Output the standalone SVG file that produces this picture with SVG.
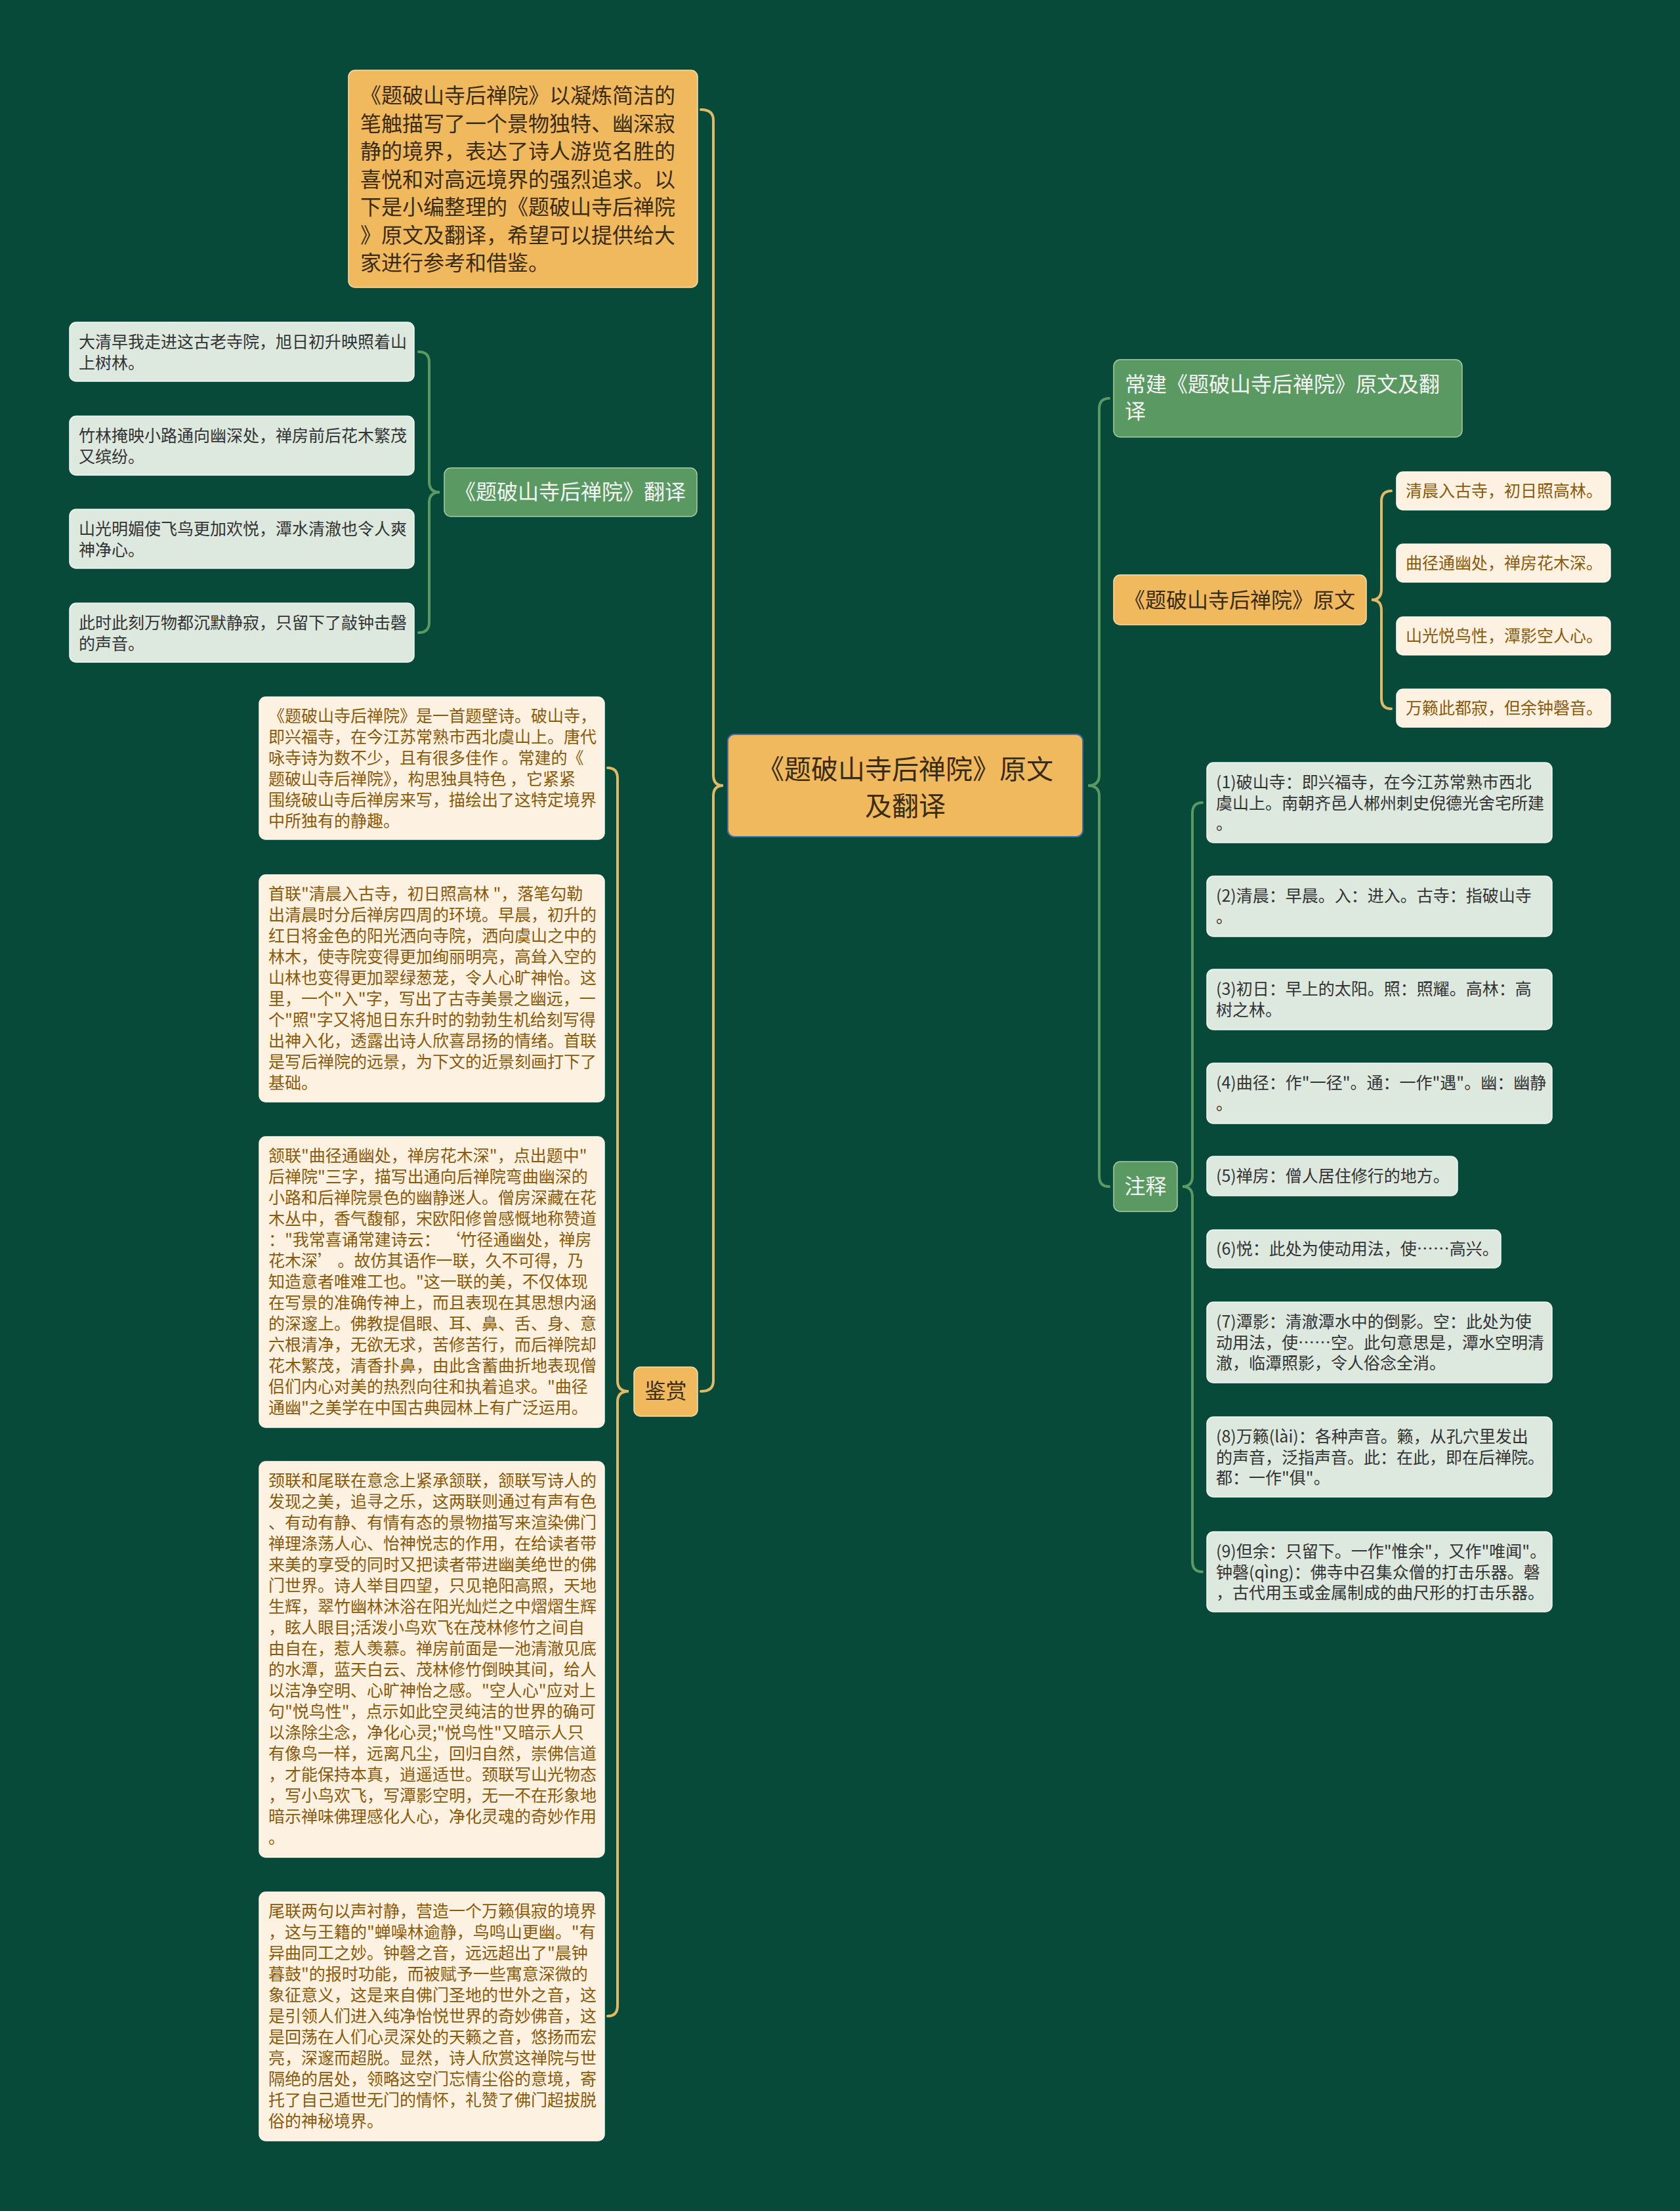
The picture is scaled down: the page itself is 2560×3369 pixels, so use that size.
<svg xmlns="http://www.w3.org/2000/svg" width="2560" height="3369" viewBox="0 0 2560 3369">
<style>
text{font-family:"Noto Sans CJK SC","Noto Sans",sans-serif}
.s25{font-size:25px}
.s32{font-size:32px}
.s41{font-size:41px}
.dark{fill:#3A2C12}
.brown{fill:#8A5A0A}
.grey{fill:#333333}
.white{fill:#F4F4F4}
.orange{fill:#F0B95E;stroke:#F7DDB0;stroke-width:1.5}
.green{fill:#5A9A62;stroke:#A8CCAA;stroke-width:1.5}
.light{fill:#DDE9DF;stroke:#F2F7F2;stroke-width:1.5}
.cream{fill:#FDF2E2;stroke:#FFF8EE;stroke-width:1.5}
.gold{stroke:#E2BA66}
.gl{stroke:#5A9A62}
</style>
<rect width="2560" height="3369" fill="#074A39"/>
<g id="connectors" fill="none" stroke-width="4" stroke-linecap="round">
<path class="gold" d="M1068,167 Q1087,167 1087,183 L1087,1181 Q1087,1197 1102,1197 Q1087,1197 1087,1213 L1087,2104 Q1087,2120 1068,2120"/>
<path class="gold" d="M926,1170 Q941,1170 941,1186 L941,2104 Q941,2120 958,2120 Q941,2120 941,2136 L941,3056 Q941,3072 926,3072"/>
<path class="gl" d="M638,536 Q654,536 654,552 L654,734 Q654,750 670,750 Q654,750 654,766 L654,948 Q654,964 638,964"/>
<path class="gl" d="M1690,607 Q1675,607 1675,623 L1675,1181 Q1675,1197 1658,1197 Q1675,1197 1675,1213 L1675,1792 Q1675,1808 1690,1808"/>
<path class="gold" d="M2120,748 Q2105,748 2105,764 L2105,898 Q2105,914 2090,914 Q2105,914 2105,930 L2105,1064 Q2105,1080 2120,1080"/>
<path class="gl" d="M1832,1223 Q1817,1223 1817,1239 L1817,1792 Q1817,1808 1802,1808 Q1817,1808 1817,1824 L1817,2379 Q1817,2395 1832,2395"/>
</g>
<g id="center">
<rect x="1109" y="1119" width="541" height="156" rx="10" fill="#F0B95E" stroke="#3C6EB4" stroke-width="2"/>
<text class="s41 dark" text-anchor="middle"><tspan x="1379.5" y="1187">《题破山寺后禅院》原文</tspan><tspan x="1379.5" y="1243">及翻译</tspan></text>
</g>
<g id="intro">
<rect class="orange" x="531" y="107" width="532" height="331" rx="10"/>
<text class="s32 dark"><tspan x="549" y="157">《题破山寺后禅院》以凝炼简洁的</tspan><tspan x="549" y="199.5">笔触描写了一个景物独特、幽深寂</tspan><tspan x="549" y="242">静的境界，表达了诗人游览名胜的</tspan><tspan x="549" y="284.5">喜悦和对高远境界的强烈追求。以</tspan><tspan x="549" y="327">下是小编整理的《题破山寺后禅院</tspan><tspan x="549" y="369.5">》原文及翻译，希望可以提供给大</tspan><tspan x="549" y="412">家进行参考和借鉴。</tspan></text>
</g>
<g id="translation">
<rect class="green" x="677" y="713" width="385" height="74" rx="10"/>
<text class="s32 white" x="693" y="761">《题破山寺后禅院》翻译</text>
</g>
<g id="tr1">
<rect class="light" x="106" y="491" width="525" height="90" rx="10"/>
<text class="s25 grey"><tspan x="120" y="530">大清早我走进这古老寺院，旭日初升映照着山</tspan><tspan x="120" y="562">上树林。</tspan></text>
</g>
<g id="tr2">
<rect class="light" x="106" y="634" width="525" height="90" rx="10"/>
<text class="s25 grey"><tspan x="120" y="673">竹林掩映小路通向幽深处，禅房前后花木繁茂</tspan><tspan x="120" y="705">又缤纷。</tspan></text>
</g>
<g id="tr3">
<rect class="light" x="106" y="776" width="525" height="90" rx="10"/>
<text class="s25 grey"><tspan x="120" y="815">山光明媚使飞鸟更加欢悦，潭水清澈也令人爽</tspan><tspan x="120" y="847">神净心。</tspan></text>
</g>
<g id="tr4">
<rect class="light" x="106" y="919" width="525" height="90" rx="10"/>
<text class="s25 grey"><tspan x="120" y="958">此时此刻万物都沉默静寂，只留下了敲钟击磬</tspan><tspan x="120" y="990">的声音。</tspan></text>
</g>
<g id="appreciation">
<rect class="orange" x="966" y="2083" width="97" height="75" rx="10"/>
<text class="s32 dark" x="1014.5" y="2131" text-anchor="middle">鉴赏</text>
</g>
<g id="ap1">
<rect class="cream" x="395" y="1062" width="526" height="217" rx="10"/>
<text class="s25 brown"><tspan x="409" y="1100">《题破山寺后禅院》是一首题壁诗。破山寺，</tspan><tspan x="409" y="1132">即兴福寺，在今江苏常熟市西北虞山上。唐代</tspan><tspan x="409" y="1164">咏寺诗为数不少，且有很多佳作 。常建的《</tspan><tspan x="409" y="1196">题破山寺后禅院》，构思独具特色 ，它紧紧</tspan><tspan x="409" y="1228">围绕破山寺后禅房来写，描绘出了这特定境界</tspan><tspan x="409" y="1260">中所独有的静趣。</tspan></text>
</g>
<g id="ap2">
<rect class="cream" x="395" y="1333" width="526" height="346" rx="10"/>
<text class="s25 brown"><tspan x="409" y="1371">首联"清晨入古寺，初日照高林 "，落笔勾勒</tspan><tspan x="409" y="1403">出清晨时分后禅房四周的环境。早晨，初升的</tspan><tspan x="409" y="1435">红日将金色的阳光洒向寺院，洒向虞山之中的</tspan><tspan x="409" y="1467">林木，使寺院变得更加绚丽明亮，高耸入空的</tspan><tspan x="409" y="1499">山林也变得更加翠绿葱茏，令人心旷神怡。这</tspan><tspan x="409" y="1531">里，一个"入"字，写出了古寺美景之幽远，一</tspan><tspan x="409" y="1563">个"照"字又将旭日东升时的勃勃生机给刻写得</tspan><tspan x="409" y="1595">出神入化，透露出诗人欣喜昂扬的情绪。首联</tspan><tspan x="409" y="1627">是写后禅院的远景，为下文的近景刻画打下了</tspan><tspan x="409" y="1659">基础。</tspan></text>
</g>
<g id="ap3">
<rect class="cream" x="395" y="1732" width="526" height="443" rx="10"/>
<text class="s25 brown"><tspan x="409" y="1770">颔联"曲径通幽处，禅房花木深"，点出题中"</tspan><tspan x="409" y="1802">后禅院"三字，描写出通向后禅院弯曲幽深的</tspan><tspan x="409" y="1834">小路和后禅院景色的幽静迷人。僧房深藏在花</tspan><tspan x="409" y="1866">木丛中，香气馥郁，宋欧阳修曾感慨地称赞道</tspan><tspan x="409" y="1898">："我常喜诵常建诗云： ‘竹径通幽处，禅房</tspan><tspan x="409" y="1930">花木深’ 。故仿其语作一联，久不可得，乃</tspan><tspan x="409" y="1962">知造意者唯难工也。"这一联的美，不仅体现</tspan><tspan x="409" y="1994">在写景的准确传神上，而且表现在其思想内涵</tspan><tspan x="409" y="2026">的深邃上。佛教提倡眼、耳、鼻、舌、身、意</tspan><tspan x="409" y="2058">六根清净，无欲无求，苦修苦行，而后禅院却</tspan><tspan x="409" y="2090">花木繁茂，清香扑鼻，由此含蓄曲折地表现僧</tspan><tspan x="409" y="2122">侣们内心对美的热烈向往和执着追求。"曲径</tspan><tspan x="409" y="2154">通幽"之美学在中国古典园林上有广泛运用。</tspan></text>
</g>
<g id="ap4">
<rect class="cream" x="395" y="2227" width="526" height="603" rx="10"/>
<text class="s25 brown"><tspan x="409" y="2265">颈联和尾联在意念上紧承颔联，颔联写诗人的</tspan><tspan x="409" y="2297">发现之美，追寻之乐，这两联则通过有声有色</tspan><tspan x="409" y="2329">、有动有静、有情有态的景物描写来渲染佛门</tspan><tspan x="409" y="2361">禅理涤荡人心、怡神悦志的作用，在给读者带</tspan><tspan x="409" y="2393">来美的享受的同时又把读者带进幽美绝世的佛</tspan><tspan x="409" y="2425">门世界。诗人举目四望，只见艳阳高照，天地</tspan><tspan x="409" y="2457">生辉，翠竹幽林沐浴在阳光灿烂之中熠熠生辉</tspan><tspan x="409" y="2489">，眩人眼目;活泼小鸟欢飞在茂林修竹之间自</tspan><tspan x="409" y="2521">由自在，惹人羡慕。禅房前面是一池清澈见底</tspan><tspan x="409" y="2553">的水潭，蓝天白云、茂林修竹倒映其间，给人</tspan><tspan x="409" y="2585">以洁净空明、心旷神怡之感。"空人心"应对上</tspan><tspan x="409" y="2617">句"悦鸟性"，点示如此空灵纯洁的世界的确可</tspan><tspan x="409" y="2649">以涤除尘念，净化心灵;"悦鸟性"又暗示人只</tspan><tspan x="409" y="2681">有像鸟一样，远离凡尘，回归自然，崇佛信道</tspan><tspan x="409" y="2713">，才能保持本真，逍遥适世。颈联写山光物态</tspan><tspan x="409" y="2745">，写小鸟欢飞，写潭影空明，无一不在形象地</tspan><tspan x="409" y="2777">暗示禅味佛理感化人心，净化灵魂的奇妙作用</tspan><tspan x="409" y="2809">。</tspan></text>
</g>
<g id="ap5">
<rect class="cream" x="395" y="2883" width="526" height="379" rx="10"/>
<text class="s25 brown"><tspan x="409" y="2921">尾联两句以声衬静，营造一个万籁俱寂的境界</tspan><tspan x="409" y="2953">，这与王籍的"蝉噪林逾静，鸟鸣山更幽。"有</tspan><tspan x="409" y="2985">异曲同工之妙。钟磬之音，远远超出了"晨钟</tspan><tspan x="409" y="3017">暮鼓"的报时功能，而被赋予一些寓意深微的</tspan><tspan x="409" y="3049">象征意义，这是来自佛门圣地的世外之音，这</tspan><tspan x="409" y="3081">是引领人们进入纯净怡悦世界的奇妙佛音，这</tspan><tspan x="409" y="3113">是回荡在人们心灵深处的天籁之音，悠扬而宏</tspan><tspan x="409" y="3145">亮，深邃而超脱。显然，诗人欣赏这禅院与世</tspan><tspan x="409" y="3177">隔绝的居处，领略这空门忘情尘俗的意境，寄</tspan><tspan x="409" y="3209">托了自己遁世无门的情怀，礼赞了佛门超拔脱</tspan><tspan x="409" y="3241">俗的神秘境界。</tspan></text>
</g>
<g id="title-node">
<rect class="green" x="1697" y="548" width="531" height="118" rx="10"/>
<text class="s32 white"><tspan x="1714" y="597">常建《题破山寺后禅院》原文及翻</tspan><tspan x="1714" y="638">译</tspan></text>
</g>
<g id="original">
<rect class="orange" x="1697" y="876" width="385" height="76" rx="10"/>
<text class="s32 dark" x="1713" y="926">《题破山寺后禅院》原文</text>
</g>
<g id="poem1">
<rect class="cream" x="2128" y="719" width="326" height="58" rx="10"/>
<text class="s25 brown" x="2142" y="757">清晨入古寺，初日照高林。</text>
</g>
<g id="poem2">
<rect class="cream" x="2128" y="829" width="326" height="58" rx="10"/>
<text class="s25 brown" x="2142" y="867">曲径通幽处，禅房花木深。</text>
</g>
<g id="poem3">
<rect class="cream" x="2128" y="940" width="326" height="58" rx="10"/>
<text class="s25 brown" x="2142" y="978">山光悦鸟性，潭影空人心。</text>
</g>
<g id="poem4">
<rect class="cream" x="2128" y="1050" width="326" height="58" rx="10"/>
<text class="s25 brown" x="2142" y="1088">万籁此都寂，但余钟磬音。</text>
</g>
<g id="notes">
<rect class="green" x="1697" y="1770" width="97" height="76" rx="10"/>
<text class="s32 white" x="1745.5" y="1819" text-anchor="middle">注释</text>
</g>
<g id="note1">
<rect class="light" x="1839" y="1162" width="526" height="122" rx="10"/>
<text class="s25 grey"><tspan x="1853" y="1201">(1)破山寺：即兴福寺，在今江苏常熟市西北</tspan><tspan x="1853" y="1232.5">虞山上。南朝齐邑人郴州刺史倪德光舍宅所建</tspan><tspan x="1853" y="1264">。</tspan></text>
</g>
<g id="note2">
<rect class="light" x="1839" y="1335" width="526" height="92" rx="10"/>
<text class="s25 grey"><tspan x="1853" y="1374">(2)清晨：早晨。入：进入。古寺：指破山寺</tspan><tspan x="1853" y="1405.5">。</tspan></text>
</g>
<g id="note3">
<rect class="light" x="1839" y="1477" width="526" height="92" rx="10"/>
<text class="s25 grey"><tspan x="1853" y="1516">(3)初日：早上的太阳。照：照耀。高林：高</tspan><tspan x="1853" y="1547.5">树之林。</tspan></text>
</g>
<g id="note4">
<rect class="light" x="1839" y="1620" width="526" height="92" rx="10"/>
<text class="s25 grey"><tspan x="1853" y="1659">(4)曲径：作"一径"。通：一作"遇"。幽：幽静</tspan><tspan x="1853" y="1690.5">。</tspan></text>
</g>
<g id="note5">
<rect class="light" x="1839" y="1762" width="382" height="60" rx="10"/>
<text class="s25 grey" x="1853" y="1801">(5)禅房：僧人居住修行的地方。</text>
</g>
<g id="note6">
<rect class="light" x="1839" y="1874" width="448" height="58" rx="10"/>
<text class="s25 grey" x="1853" y="1912">(6)悦：此处为使动用法，使……高兴。</text>
</g>
<g id="note7">
<rect class="light" x="1839" y="1984" width="526" height="123" rx="10"/>
<text class="s25 grey"><tspan x="1853" y="2023">(7)潭影：清澈潭水中的倒影。空：此处为使</tspan><tspan x="1853" y="2054.5">动用法，使……空。此句意思是，潭水空明清</tspan><tspan x="1853" y="2086">澈，临潭照影，令人俗念全消。</tspan></text>
</g>
<g id="note8">
<rect class="light" x="1839" y="2159" width="526" height="122" rx="10"/>
<text class="s25 grey"><tspan x="1853" y="2198">(8)万籁(lài)：各种声音。籁，从孔穴里发出</tspan><tspan x="1853" y="2229.5">的声音，泛指声音。此：在此，即在后禅院。</tspan><tspan x="1853" y="2261">都：一作"俱"。</tspan></text>
</g>
<g id="note9">
<rect class="light" x="1839" y="2334" width="526" height="122" rx="10"/>
<text class="s25 grey"><tspan x="1853" y="2373">(9)但余：只留下。一作"惟余"，又作"唯闻"。</tspan><tspan x="1853" y="2404.5">钟磬(qìng)：佛寺中召集众僧的打击乐器。磬</tspan><tspan x="1853" y="2436">，古代用玉或金属制成的曲尺形的打击乐器。</tspan></text>
</g>
</svg>
